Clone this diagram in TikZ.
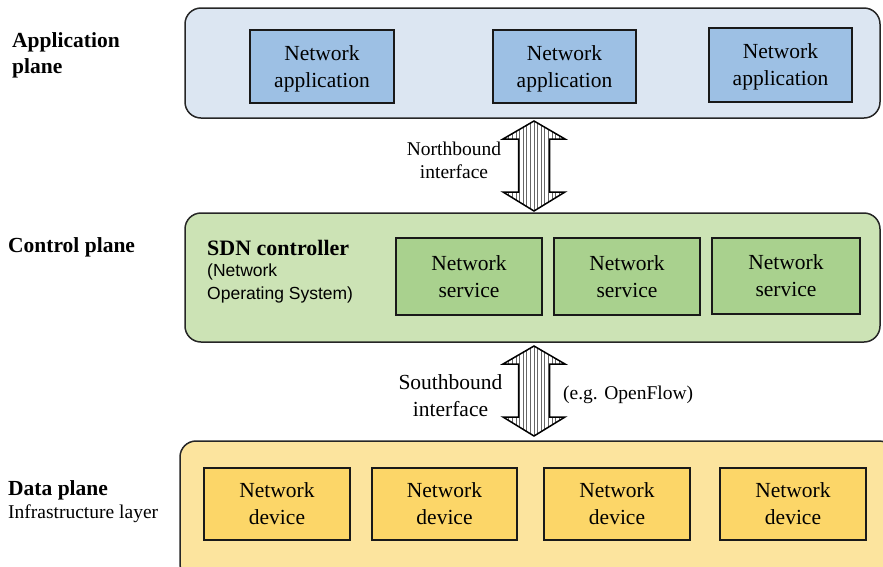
\documentclass[tikz,border=0pt]{standalone}
\usepackage{fontspec}
\setmainfont{Liberation Serif}
\setsansfont{Liberation Sans}
\definecolor{appbg}{HTML}{DCE6F2}
\definecolor{appbox}{HTML}{9DC0E4}
\definecolor{ctlbg}{HTML}{CCE3B5}
\definecolor{ctlbox}{HTML}{A9D18E}
\definecolor{databg}{HTML}{FCE49E}
\definecolor{databox}{HTML}{FCD668}
\newcommand{\SdnArrow}[3]{%
  \begin{scope}
    \clip (#1,#2) -- (#1-31,#2+18) -- (#1-15.5,#2+18) -- (#1-15.5,#3-19) -- (#1-31,#3-19) -- (#1,#3) -- (#1+31,#3-19) -- (#1+15.5,#3-19) -- (#1+15.5,#2+18) -- (#1+31,#2+18) -- cycle;
    \fill[white] (#1-32,#2) rectangle (#1+32,#3);
    \foreach \k in {-8,...,8} \draw[stripe] (#1+\k*3.6,#2) -- (#1+\k*3.6,#3);
  \end{scope}
  \draw[arrowline] (#1,#2) -- (#1-31,#2+18) -- (#1-15.5,#2+18) -- (#1-15.5,#3-19) -- (#1-31,#3-19) -- (#1,#3) -- (#1+31,#3-19) -- (#1+15.5,#3-19) -- (#1+15.5,#2+18) -- (#1+31,#2+18) -- cycle;
}
\newcommand{\TopPad}{\rule{0pt}{19.5pt}}
\begin{document}
\begin{tikzpicture}[x=1pt,y=-1pt,
  plane/.style={draw=black!85, line width=1.5pt, rounded corners=16pt, inner sep=0pt},
  inbox/.style={draw=black!90, line width=2pt, align=center, inner sep=0pt,
     font=\fontsize{21.5}{27}\selectfont},
  lbl/.style={inner sep=0pt, anchor=west, align=left},
  stripe/.style={draw=black!60, line width=1pt},
  arrowline/.style={draw=black, line width=1.5pt, line join=miter}]
\useasboundingbox (0,0) rectangle (883,566);
\clip (0,0) rectangle (883,566);
% planes
\node[plane, fill=appbg, minimum width=695pt, minimum height=110pt] (app) at (532.5,63) {};
\node[plane, fill=ctlbg, minimum width=695pt, minimum height=129pt] (ctl) at (532.5,277.5) {};
\node[plane, fill=databg, minimum width=715pt, minimum height=139pt] (data) at (537.5,510.5) {};
% application boxes
\node[inbox, fill=appbox, minimum width=144pt, minimum height=73pt] (a1) at (322,66.5) {\TopPad Network\\application};
\node[inbox, fill=appbox, minimum width=143pt, minimum height=73pt] (a2) at (564.5,66.5) {\TopPad Network\\application};
\node[inbox, fill=appbox, minimum width=143pt, minimum height=74pt] (a3) at (780.5,65) {\TopPad Network\\application};
% services
\node[inbox, fill=ctlbox, minimum width=146pt, minimum height=77pt] (s1) at (469,276.5) {Network\\service};
\node[inbox, fill=ctlbox, minimum width=146pt, minimum height=77pt] (s2) at (627,276.5) {Network\\service};
\node[inbox, fill=ctlbox, minimum width=148pt, minimum height=76pt] (s3) at (786,276) {Network\\service};
% devices
\node[inbox, fill=databox, minimum width=146pt, minimum height=72pt] (d1) at (277,504) {Network\\device};
\node[inbox, fill=databox, minimum width=145pt, minimum height=72pt] (d2) at (444.5,504) {Network\\device};
\node[inbox, fill=databox, minimum width=146pt, minimum height=72pt] (d3) at (617,504) {Network\\device};
\node[inbox, fill=databox, minimum width=146pt, minimum height=72pt] (d4) at (793,504) {Network\\device};
% left labels
\node[lbl, font=\fontsize{21.5}{26}\selectfont\bfseries] (lapp) at (12,55) {Application\\plane};
\node[lbl, font=\fontsize{21.5}{26}\selectfont\bfseries] (lctl) at (8,247) {Control plane};
\node[lbl, font=\fontsize{21.5}{26}\selectfont\bfseries] (ldata) at (8,490) {Data plane};
\node[lbl, font=\fontsize{19.5}{23}\selectfont] (linfra) at (8,514) {Infrastructure layer};
% controller text
\node[lbl, font=\fontsize{22}{26}\selectfont\bfseries] (sdn) at (207,248) {SDN controller};
\node[lbl, font=\sffamily\fontsize{17.5}{23}\selectfont] (nos) at (207,283) {(Network\\Operating System)};
% arrows
\SdnArrow{534}{121}{211}
\SdnArrow{534}{346}{436}
\node[inner sep=0pt, align=center, font=\fontsize{19.5}{23}\selectfont] (nb) at (454,160) {Northbound\\interface};
\node[inner sep=0pt, align=center, font=\fontsize{21.5}{27}\selectfont] (sb) at (450.5,396) {Southbound\\interface};
\node[lbl, font=\fontsize{19.5}{23}\selectfont] (of) at (563,395) {(e.g. OpenFlow)};
\end{tikzpicture}
\end{document}
